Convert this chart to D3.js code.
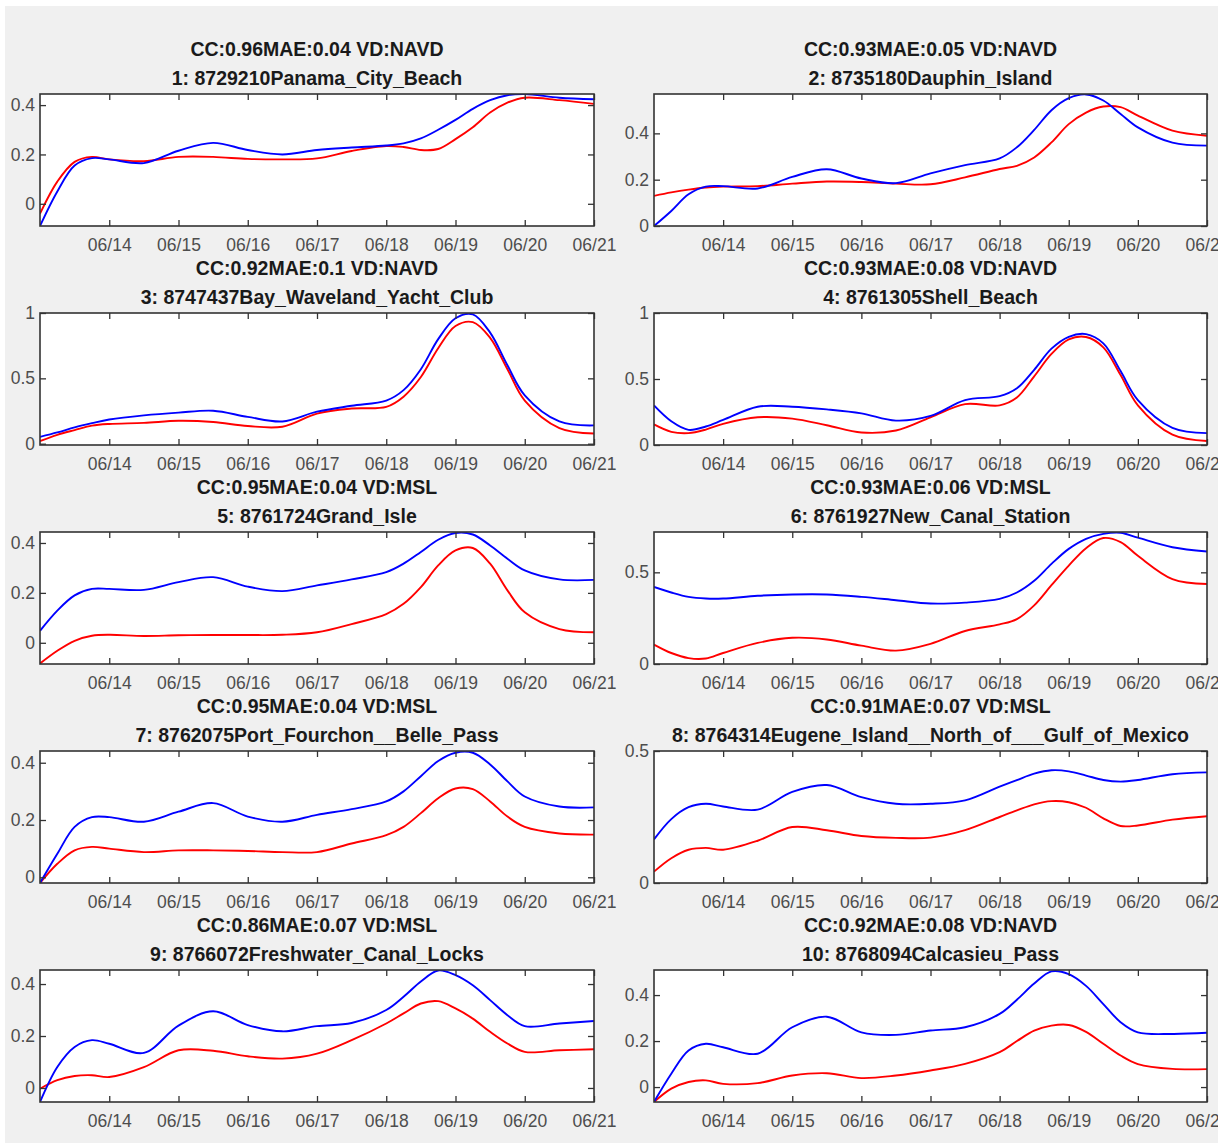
<!DOCTYPE html>
<html>
<head>
<meta charset="utf-8">
<script src="https://cdn.jsdelivr.net/npm/d3@7"></script>
<style>
  html, body { margin: 0; padding: 0; background: #fff; }
  svg { display: block; font-family: "Liberation Sans", Arial, sans-serif; }
  .tick text { fill: #4d4d4d; font-size: 17.5px; }
  .tick line { stroke: #333; }
  .title { font-weight: bold; font-size: 19.5px; fill: #1a1a1a; text-anchor: middle; }
</style>
</head>
<body>
<div id="chart"></div>
<script>
// days since 06/13 00:00
const days = [0, 0.25, 0.5, 0.75, 1, 1.5, 2, 2.5, 3, 3.5, 4, 4.5, 5, 5.25, 5.5, 5.75, 6, 6.25, 6.5, 6.75, 7, 7.5, 8];
const xTickLabels = ["06/14", "06/15", "06/16", "06/17", "06/18", "06/19", "06/20", "06/21"];

const metrics = [
  "CC:0.96MAE:0.04 VD:NAVD", "CC:0.93MAE:0.05 VD:NAVD",
  "CC:0.92MAE:0.1 VD:NAVD", "CC:0.93MAE:0.08 VD:NAVD",
  "CC:0.95MAE:0.04 VD:MSL", "CC:0.93MAE:0.06 VD:MSL",
  "CC:0.95MAE:0.04 VD:MSL", "CC:0.91MAE:0.07 VD:MSL",
  "CC:0.86MAE:0.07 VD:MSL", "CC:0.92MAE:0.08 VD:NAVD"
];
const stations = [
  "1: 8729210Panama_City_Beach", "2: 8735180Dauphin_Island",
  "3: 8747437Bay_Waveland_Yacht_Club", "4: 8761305Shell_Beach",
  "5: 8761724Grand_Isle", "6: 8761927New_Canal_Station",
  "7: 8762075Port_Fourchon__Belle_Pass", "8: 8764314Eugene_Island__North_of___Gulf_of_Mexico",
  "9: 8766072Freshwater_Canal_Locks", "10: 8768094Calcasieu_Pass"
];

const yDomains = [
  [-0.09, 0.445], [0, 0.57], [-0.01, 1.0], [0, 1], [-0.085, 0.444],
  [0, 0.72], [-0.02, 0.441], [0, 0.5], [-0.054, 0.454], [-0.065, 0.509]
];
const yTicks = [
  [0, 0.2, 0.4], [0, 0.2, 0.4], [0, 0.5, 1], [0, 0.5, 1], [0, 0.2, 0.4],
  [0, 0.5], [0, 0.2, 0.4], [0, 0.5], [0, 0.2, 0.4], [0, 0.2, 0.4]
];

const blue1 = [-0.09,0.05,0.155,0.185,0.18,0.165,0.215,0.247,0.218,0.2,0.218,0.228,0.236,0.245,0.265,0.3,0.34,0.385,0.42,0.44,0.445,0.43,0.424];
const red1  = [-0.04,0.09,0.17,0.19,0.18,0.173,0.19,0.19,0.182,0.18,0.184,0.214,0.234,0.23,0.218,0.222,0.262,0.31,0.37,0.41,0.43,0.42,0.405];
const blue2 = [0,0.065,0.137,0.17,0.172,0.162,0.212,0.245,0.205,0.185,0.227,0.263,0.292,0.34,0.415,0.5,0.552,0.568,0.542,0.484,0.426,0.36,0.347];
const red2  = [0.13,0.145,0.157,0.166,0.17,0.172,0.183,0.192,0.19,0.183,0.18,0.21,0.246,0.26,0.296,0.361,0.44,0.49,0.516,0.513,0.477,0.412,0.39];
const blue3 = [0.052,0.086,0.125,0.157,0.185,0.217,0.238,0.252,0.205,0.17,0.245,0.29,0.33,0.41,0.57,0.8,0.96,0.99,0.85,0.6,0.37,0.17,0.14];
const red3  = [0.02,0.068,0.104,0.138,0.151,0.159,0.175,0.166,0.135,0.13,0.23,0.269,0.282,0.36,0.51,0.73,0.9,0.93,0.81,0.57,0.33,0.12,0.078];
const blue4 = [0.3,0.18,0.115,0.14,0.19,0.29,0.29,0.27,0.24,0.185,0.22,0.34,0.37,0.43,0.57,0.73,0.82,0.84,0.77,0.56,0.34,0.13,0.09];
const red4  = [0.156,0.1,0.09,0.117,0.16,0.21,0.2,0.15,0.095,0.11,0.21,0.31,0.3,0.36,0.52,0.69,0.8,0.818,0.74,0.53,0.3,0.078,0.03];
const blue5 = [0.048,0.129,0.19,0.216,0.216,0.212,0.243,0.263,0.225,0.207,0.23,0.254,0.283,0.317,0.364,0.413,0.44,0.434,0.39,0.337,0.29,0.254,0.252];
const red5  = [-0.083,-0.032,0.008,0.028,0.032,0.027,0.03,0.031,0.031,0.032,0.042,0.075,0.115,0.156,0.223,0.31,0.37,0.38,0.317,0.21,0.122,0.055,0.042];
const blue6 = [0.42,0.39,0.366,0.357,0.357,0.372,0.379,0.379,0.366,0.348,0.33,0.335,0.355,0.39,0.454,0.546,0.628,0.683,0.71,0.716,0.689,0.637,0.614];
const red6  = [0.106,0.06,0.032,0.03,0.06,0.115,0.143,0.134,0.1,0.073,0.11,0.18,0.216,0.245,0.32,0.43,0.537,0.632,0.687,0.665,0.59,0.463,0.436];
const blue7 = [-0.02,0.082,0.176,0.21,0.21,0.194,0.229,0.259,0.212,0.194,0.218,0.238,0.265,0.3,0.353,0.406,0.435,0.435,0.394,0.335,0.282,0.247,0.244];
const red7  = [-0.02,0.047,0.094,0.106,0.1,0.088,0.094,0.094,0.092,0.088,0.088,0.118,0.147,0.176,0.224,0.276,0.31,0.308,0.265,0.212,0.176,0.153,0.149];
const blue8 = [0.165,0.242,0.287,0.3,0.29,0.278,0.345,0.371,0.325,0.3,0.3,0.313,0.365,0.39,0.414,0.427,0.423,0.407,0.39,0.384,0.39,0.412,0.419];
const red8  = [0.043,0.094,0.126,0.133,0.126,0.16,0.212,0.2,0.178,0.171,0.172,0.2,0.25,0.275,0.298,0.31,0.306,0.285,0.245,0.216,0.218,0.24,0.253];
const blue9 = [-0.054,0.081,0.158,0.184,0.17,0.135,0.24,0.295,0.242,0.218,0.238,0.25,0.3,0.351,0.41,0.452,0.434,0.395,0.338,0.28,0.238,0.248,0.258];
const red9  = [-0.003,0.03,0.046,0.049,0.042,0.08,0.145,0.143,0.122,0.113,0.132,0.184,0.248,0.287,0.325,0.334,0.306,0.267,0.216,0.171,0.139,0.145,0.149];
const blue10 = [-0.065,0.058,0.159,0.188,0.173,0.145,0.26,0.306,0.238,0.227,0.246,0.26,0.318,0.38,0.45,0.503,0.491,0.44,0.361,0.282,0.238,0.231,0.236];
const red10  = [-0.065,-0.007,0.022,0.029,0.014,0.017,0.05,0.06,0.039,0.05,0.072,0.101,0.152,0.2,0.245,0.267,0.27,0.24,0.188,0.137,0.1,0.079,0.078];

const blues = [blue1, blue2, blue3, blue4, blue5, blue6, blue7, blue8, blue9, blue10];
const reds = [red1, red2, red3, red4, red5, red6, red7, red8, red9, red10];

const W = 1225, H = 1146;
const colLeft = [40, 654], colW = [554, 553];
const rowTop0 = 94, rowStep = 219, axH = 132;

const svg = d3.select("#chart").append("svg")
  .attr("width", W).attr("height", H);

const defs = svg.append("defs");
defs.append("clipPath").attr("id", "fig-clip")
  .append("rect").attr("x", 5).attr("y", 6).attr("width", 1213).attr("height", 1137);

const fig = svg.append("g").attr("clip-path", "url(#fig-clip)");
fig.append("rect").attr("x", 5).attr("y", 6).attr("width", 1213).attr("height", 1137).attr("fill", "#f0f0f0");

const t0 = Date.UTC(2020, 5, 13);
const toDate = d => new Date(t0 + d * 864e5);

for (let i = 0; i < 10; i++) {
  const col = i % 2, row = Math.floor(i / 2);
  const left = colLeft[col], w = colW[col], top = rowTop0 + row * rowStep;

  const x = d3.scaleUtc().domain([toDate(0), toDate(8)]).range([0, w]);
  const y = d3.scaleLinear().domain(yDomains[i]).range([axH, 0]);
  const xTickVals = xTickLabels.map((_, k) => toDate(k + 1));

  const g = fig.append("g").attr("transform", `translate(${left},${top})`);

  g.append("rect").attr("width", w).attr("height", axH).attr("fill", "#fff");

  defs.append("clipPath").attr("id", "ax-clip-" + i)
    .append("rect").attr("width", w).attr("height", axH);

  const line = d3.line()
    .x((d, k) => x(toDate(days[k])))
    .y(d => y(d))
    .curve(d3.curveCatmullRom.alpha(0.5));

  const plot = g.append("g").attr("clip-path", `url(#ax-clip-${i})`);
  plot.append("path").datum(reds[i]).attr("d", line)
    .attr("fill", "none").attr("stroke", "#ff0000").attr("stroke-width", 1.9);
  plot.append("path").datum(blues[i]).attr("d", line)
    .attr("fill", "none").attr("stroke", "#0000ff").attr("stroke-width", 1.9);

  // bottom axis with labels, ticks inside
  g.append("g").attr("transform", `translate(0,${axH})`)
    .call(d3.axisBottom(x).tickValues(xTickVals).tickFormat((d, k) => xTickLabels[k])
      .tickSizeInner(-6).tickSizeOuter(0).tickPadding(13));
  // top ticks
  g.append("g").call(d3.axisTop(x).tickValues(xTickVals).tickFormat("")
    .tickSizeInner(-6).tickSizeOuter(0));
  // left axis
  g.append("g").call(d3.axisLeft(y).tickValues(yTicks[i]).tickFormat(d => String(d))
    .tickSizeInner(-6).tickSizeOuter(0).tickPadding(5));
  // right ticks
  g.append("g").attr("transform", `translate(${w},0)`)
    .call(d3.axisRight(y).tickValues(yTicks[i]).tickFormat("")
      .tickSizeInner(-6).tickSizeOuter(0));

  g.selectAll(".domain").remove();
  g.selectAll(".tick line").attr("stroke", "#333").attr("stroke-width", 1.3);
  g.selectAll(".tick text").attr("font-family", null).attr("font-size", null);

  g.append("rect").attr("width", w).attr("height", axH)
    .attr("fill", "none").attr("stroke", "#333").attr("stroke-width", 1.6);

  g.append("text").attr("class", "title")
    .attr("x", w / 2).attr("y", -38).text(metrics[i]);
  g.append("text").attr("class", "title")
    .attr("x", w / 2).attr("y", -9).text(stations[i]);
}
</script>
</body>
</html>
